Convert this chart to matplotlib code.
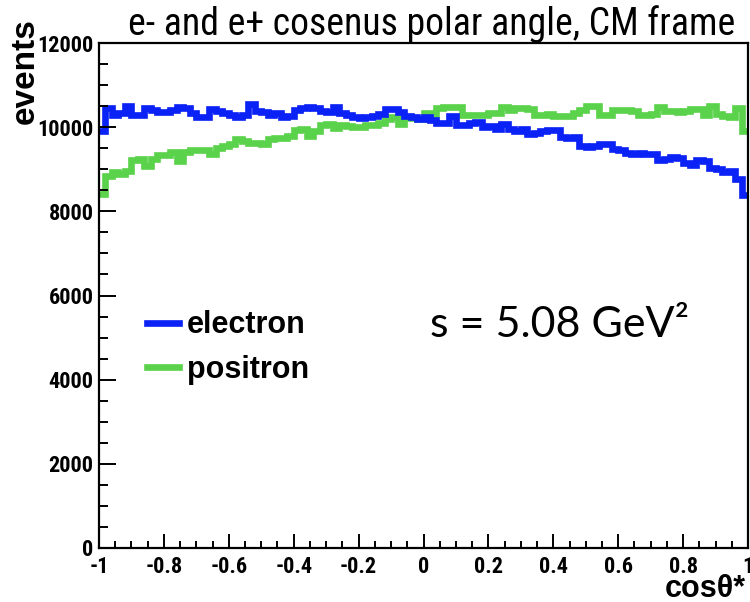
import matplotlib
matplotlib.use("Agg")
import matplotlib.pyplot as plt
import numpy as np
from matplotlib.ticker import MultipleLocator

# ---- data ----
edges = np.linspace(-1.0, 1.0, 101)
electron = [9920, 10460, 10280, 10340, 10510, 10300, 10280, 10450, 10400, 10370,
            10350, 10400, 10480, 10450, 10340, 10250, 10230, 10440, 10390, 10340,
            10280, 10240, 10300, 10540, 10390, 10360, 10300, 10330, 10245, 10270,
            10400, 10460, 10480, 10460, 10380, 10350, 10470, 10330, 10280, 10250,
            10220, 10240, 10260, 10310, 10440, 10440, 10360, 10260, 10250, 10200,
            10230, 10180, 10100, 10110, 10260, 10060, 10040, 10100, 10120, 10000,
            10020, 9950, 10070, 9960, 9920, 9950, 9830, 9850, 9900, 9940,
            9940, 9760, 9740, 9770, 9560, 9540, 9560, 9600, 9610, 9470,
            9450, 9380, 9370, 9380, 9370, 9360, 9220, 9240, 9300, 9270,
            9150, 9100, 9220, 9200, 9020, 9000, 8940, 8960, 8780, 8380]
positron = [8420, 8840, 8930, 8890, 8970, 9210, 9250, 9080, 9250, 9330,
            9330, 9410, 9190, 9400, 9450, 9450, 9450, 9370, 9500, 9550,
            9590, 9710, 9680, 9620, 9620, 9610, 9710, 9740, 9740, 9780,
            9930, 9950, 9790, 9900, 10050, 10080, 9970, 10050, 10030, 10000,
            10000, 10050, 10050, 10100, 10200, 10250, 10080, 10220, 10220, 10200,
            10330, 10320, 10450, 10480, 10490, 10470, 10300, 10280, 10290, 10300,
            10340, 10340, 10480, 10400, 10450, 10460, 10440, 10300, 10290, 10310,
            10270, 10270, 10260, 10330, 10400, 10500, 10500, 10280, 10290, 10400,
            10410, 10400, 10390, 10300, 10300, 10310, 10480, 10380, 10380, 10370,
            10390, 10420, 10420, 10300, 10500, 10320, 10260, 10250, 10450, 9900]
x_ticks = [-1, -0.8, -0.6, -0.4, -0.2, 0, 0.2, 0.4, 0.6, 0.8, 1]
x_ticklabels = ["-1", "-0.8", "-0.6", "-0.4", "-0.2", "0", "0.2", "0.4", "0.6", "0.8", "1"]
y_ticks = [0, 2000, 4000, 6000, 8000, 10000, 12000]

BLUE = "#0a22f5"
GREEN = "#5bd24c"
NARROW = ["Roboto Condensed", "Liberation Sans", "DejaVu Sans"]
BOLDF = ["Liberation Sans", "DejaVu Sans"]

fig = plt.figure(figsize=(7.5, 6.02), dpi=100)
ax = fig.add_axes([99/750, 54/602, 649/750, 505/602])

sp = ax.stairs(positron, edges, color=GREEN, linewidth=4.8, baseline=None, label="positron")
se = ax.stairs(electron, edges, color=BLUE, linewidth=4.8, baseline=None, label="electron")

ax.set_xlim(-1, 1)
ax.set_ylim(0, 12000)
ax.set_xticks(x_ticks)
ax.set_xticklabels(x_ticklabels)
ax.set_yticks(y_ticks)
ax.xaxis.set_minor_locator(MultipleLocator(0.05))
ax.yaxis.set_minor_locator(MultipleLocator(500))
ax.tick_params(axis="x", which="major", direction="in", length=10, width=1.4, pad=6)
ax.tick_params(axis="x", which="minor", direction="in", length=5, width=1.4)
ax.tick_params(axis="y", which="major", direction="in", length=12, width=1.4, pad=4)
ax.tick_params(axis="y", which="minor", direction="in", length=6.5, width=1.4)
for lab in ax.get_xticklabels() + ax.get_yticklabels():
    lab.set_family(NARROW)
    lab.set_fontweight("bold")
    lab.set_fontsize(16)
for s in ax.spines.values():
    s.set_linewidth(1.6)

ax.set_title("e- and e+ cosenus polar angle, CM frame", family=NARROW, fontsize=27.2,
             pad=2, x=0.512)

ax.set_xlabel("cosθ*", family=BOLDF, fontweight="bold", fontsize=22, loc="right")
ax.xaxis.set_label_coords(0.996, -0.051)
ax.set_ylabel("events", family=BOLDF, fontweight="bold", fontsize=24, loc="top")
ax.yaxis.set_label_coords(-0.089, 1.05)

leg = ax.legend(handles=[se, sp], loc="upper left", bbox_to_anchor=(0.0554, 0.495),
                frameon=False, prop={"family": BOLDF, "weight": "bold", "size": 22},
                handlelength=1.05, handletextpad=0.25, labelspacing=0.48, borderaxespad=0)

ax.text(0.51, 0.418, "s = 5.08 GeV²", transform=ax.transAxes, ha="left", va="baseline",
        family=["Lato", "DejaVu Sans"], fontsize=31)

fig.savefig("out.png", dpi=100)
